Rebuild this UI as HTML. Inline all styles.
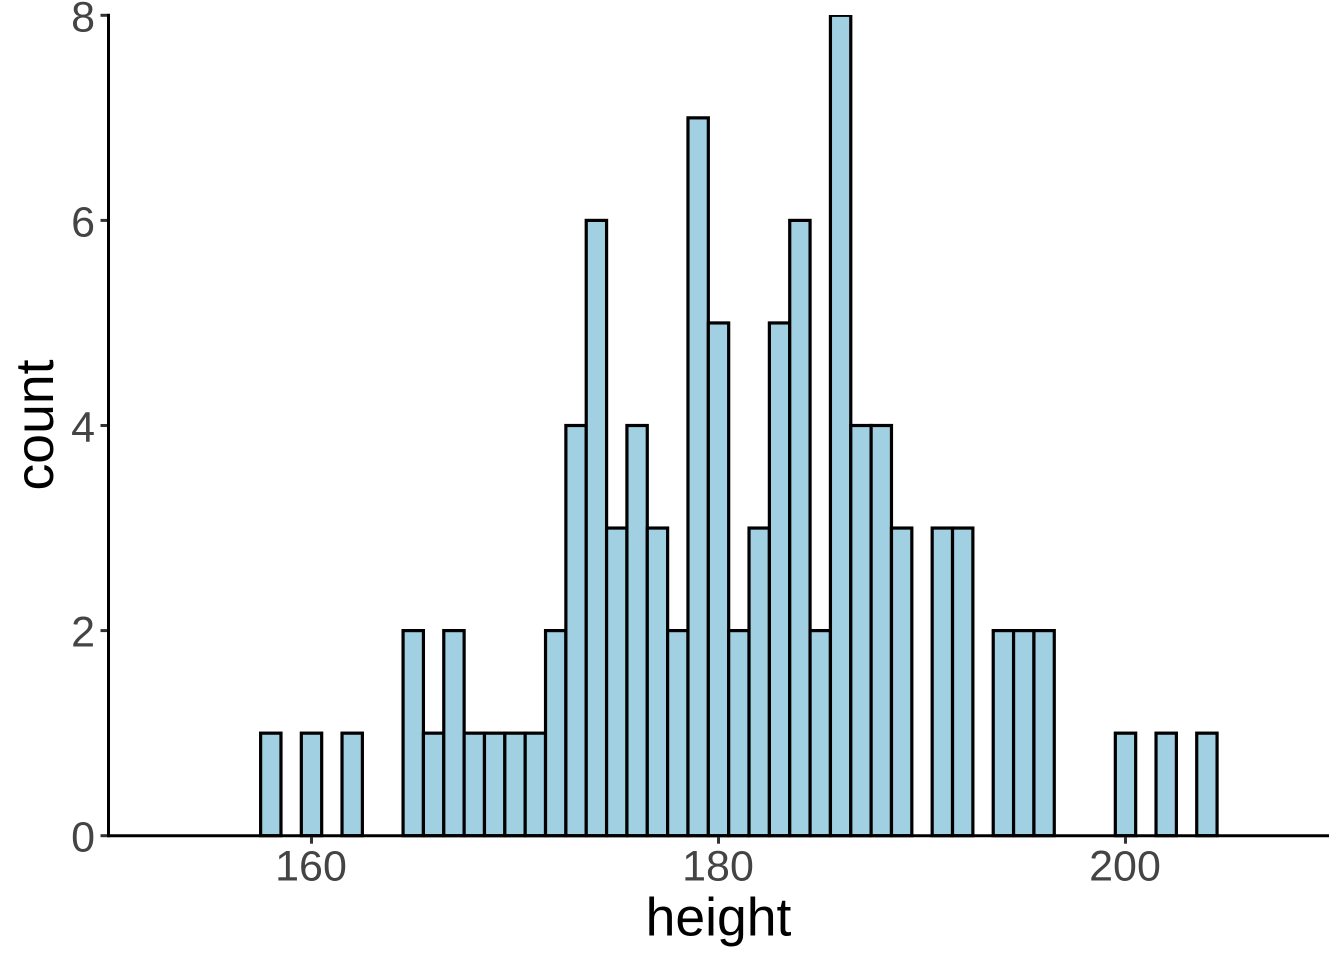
<!DOCTYPE html>
<html>
<head>
<meta charset="utf-8">
<style>
html,body{margin:0;padding:0;background:#fff;}
svg{display:block;font-family:"Liberation Sans",Arial,sans-serif;}
</style>
</head>
<body>
<svg id="chart" width="1344" height="960" viewBox="0 0 1344 960" xmlns="http://www.w3.org/2000/svg">
<defs><clipPath id="panel-clip"><rect x="108" y="15" width="1221" height="823"></rect></clipPath></defs>
<g id="bars" clip-path="url(#panel-clip)"></g>
<g id="axes"></g>
<text x="718.5" y="935.5" font-size="53.5" text-anchor="middle" fill="#000">height</text>
<text transform="translate(53,425) rotate(-90)" font-size="53.5" text-anchor="middle" fill="#000">count</text>
</svg>
<script>
const binCenters = [158,159,160,161,162,163,164,165,166,167,168,169,170,171,172,173,174,175,176,177,178,179,180,181,182,183,184,185,186,187,188,189,190,191,192,193,194,195,196,197,198,199,200,201,202,203,204];
const binCounts = [1,0,1,0,1,0,0,2,1,2,1,1,1,1,2,4,6,3,4,3,2,7,5,2,3,5,6,2,8,4,4,3,0,3,3,0,2,2,2,0,0,0,1,0,1,0,1];
const xTickValues = [160,180,200];
const yTickValues = [0,2,4,6,8];

const NS = 'http://www.w3.org/2000/svg';
const X_LEFT = 108.5, X_RIGHT = 1329, Y_BASE = 835.7, Y_TOP = 15.3;
const xScale = v => 311.5 + (v - 160) * 20.35;
const yScale = v => Y_BASE - v * (Y_BASE - Y_TOP) / 8;
const binWidth = 1;

function make(tag, attrs, parent) {
  const el = document.createElementNS(NS, tag);
  for (const k in attrs) el.setAttribute(k, attrs[k]);
  parent.appendChild(el);
  return el;
}

const barsG = document.getElementById('bars');
binCenters.forEach((c, i) => {
  const n = binCounts[i];
  const x0 = xScale(c - binWidth / 2), x1 = xScale(c + binWidth / 2);
  const yT = yScale(n);
  const bar = make('rect', {x: x0, y: yT, width: x1 - x0, height: Y_BASE - yT, fill: '#a0d0e2', stroke: '#000', 'stroke-width': 3.2}, barsG);
  
  
});

const axesG = document.getElementById('axes');
const yLine = make('line', {x1: X_LEFT, x2: X_LEFT, y1: Y_TOP - 1.5, y2: Y_BASE + 1.5, stroke: '#000', 'stroke-width': 3}, axesG);


const xLine = make('line', {x1: X_LEFT - 1.5, x2: X_RIGHT, y1: Y_BASE, y2: Y_BASE, stroke: '#000', 'stroke-width': 3}, axesG);



xTickValues.forEach(v => {
  const t = make('line', {x1: xScale(v), x2: xScale(v), y1: Y_BASE + 1.5, y2: Y_BASE + 8, stroke: '#333', 'stroke-width': 3}, axesG);
  
  
  const l = make('text', {x: xScale(v) - 0.5, y: 880.5, 'font-size': 43, 'text-anchor': 'middle', fill: '#444'}, axesG);
  
  
  l.textContent = v;
});
yTickValues.forEach(v => {
  const t = make('line', {x1: X_LEFT - 8, x2: X_LEFT - 1.5, y1: yScale(v), y2: yScale(v), stroke: '#333', 'stroke-width': 3}, axesG);
  
  
  const l = make('text', {x: 95, y: yScale(v) + 16, 'font-size': 43, 'text-anchor': 'end', fill: '#444'}, axesG);
  
  
  l.textContent = v;
});
</script>
</body>
</html>
